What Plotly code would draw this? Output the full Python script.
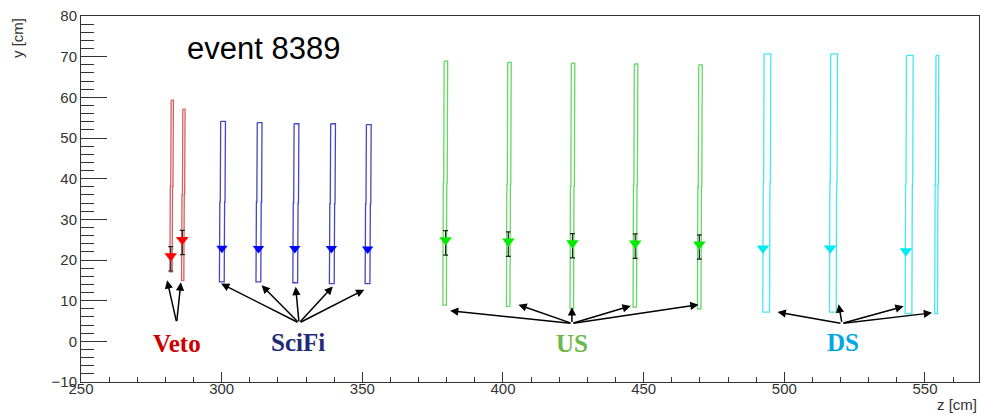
import plotly.graph_objects as go

# ---------------- data ----------------
# detector planes: centre z (top), width, bottom y, top y
veto_z = [282.45, 286.6]
veto_w = [0.8, 0.8]
veto_ybot = [17.1, 15.0]
veto_ytop = [59.3, 57.1]

scifi_z = [300.5, 313.5, 326.6, 339.6, 352.3]
scifi_w = [1.7, 1.7, 1.7, 1.7, 1.7]
scifi_ybot = [14.6, 14.6, 14.4, 14.2, 14.2]
scifi_ytop = [54.1, 53.8, 53.5, 53.5, 53.3]

us_z = [379.7, 402.3, 424.9, 447.3, 470.2]
us_w = [1.25, 1.25, 1.25, 1.25, 1.25]
us_ybot = [8.9, 8.6, 8.0, 8.4, 8.0]
us_ytop = [68.9, 68.6, 68.4, 68.2, 68.0]

ds_z = [494.0, 517.7, 544.6, 554.4]
ds_w = [2.4, 2.4, 2.4, 1.0]
ds_ybot = [7.2, 7.2, 6.8, 6.8]
ds_ytop = [70.7, 70.7, 70.3, 70.3]

# hits
veto_hit_z = [281.9, 286.0]
veto_hit_y = [20.3, 24.3]
veto_hit_err = [3.0, 3.0]

scifi_hit_z = [300.1, 313.1, 326.0, 339.0, 351.9]
scifi_hit_y = [22.9, 22.8, 22.8, 22.8, 22.7]

us_hit_z = [379.6, 401.9, 424.7, 447.0, 469.8]
us_hit_y = [24.2, 23.9, 23.5, 23.4, 23.2]
us_hit_err = [3.0, 3.0, 3.0, 3.0, 3.0]

ds_hit_z = [492.4, 516.3, 543.2]
ds_hit_y = [22.9, 22.9, 22.2]

# labels and arrows
label_text = ["Veto", "SciFi", "US", "DS"]
label_z = [284.1, 327.0, 424.5, 520.7]
label_y = [-0.6, -0.4, -0.5, -0.4]
label_color = ["#cc0000", "#1f2a78", "#6cb84a", "#00a8e6"]

arrow_base = [(284.0, 4.6), (327.5, 4.5), (424.5, 4.4), (520.5, 4.4)]
arrow_tips = [
    [(280.6, 15.0), (285.5, 14.5)],
    [(299.8, 14.2), (314.2, 13.8), (326.3, 13.4), (339.5, 13.5), (350.7, 12.7)],
    [(381.2, 7.5), (405.5, 9.0), (424.5, 8.4), (445.4, 8.7), (469.5, 9.0)],
    [(497.6, 7.2), (519.3, 9.1), (542.4, 8.6), (552.5, 7.0)],
]

event_label = "event 8389"

x_range = [250, 569.2]
y_range = [-10, 80]

# ---------------- figure ----------------
fig = go.Figure()

NSEG = 4
TILT = -0.45  # cm shift of the lowest segment relative to the top one


def outline(zs, ws, ybs, yts):
    xs, ys = [], []
    for zc, w, yb, yt in zip(zs, ws, ybs, yts):
        h = (yt - yb) / NSEG
        segs = []
        for i in range(NSEG):
            top = yt - i * h
            bot = yt - (i + 1) * h
            dz = TILT * i / (NSEG - 1)
            segs.append((zc + dz, top, bot))
        for c, top, bot in segs:
            xs += [c - w / 2, c - w / 2]
            ys += [top, bot]
        for c, top, bot in reversed(segs):
            xs += [c + w / 2, c + w / 2]
            ys += [bot, top]
        xs += [segs[0][0] - w / 2, None]
        ys += [segs[0][1], None]
    return xs, ys


plane_sets = [
    (veto_z, veto_w, veto_ybot, veto_ytop, "rgb(215,95,95)"),
    (scifi_z, scifi_w, scifi_ybot, scifi_ytop, "rgb(70,70,195)"),
    (us_z, us_w, us_ybot, us_ytop, "rgb(100,215,100)"),
    (ds_z, ds_w, ds_ybot, ds_ytop, "rgb(70,230,240)"),
]
for zs, ws, ybs, yts, col in plane_sets:
    px, py = outline(zs, ws, ybs, yts)
    fig.add_trace(go.Scatter(x=px, y=py, mode="lines",
                             line=dict(color=col, width=1.3),
                             hoverinfo="skip", showlegend=False))

# error bars
for hz, hy, he in [(veto_hit_z, veto_hit_y, veto_hit_err), (us_hit_z, us_hit_y, us_hit_err)]:
    fig.add_trace(go.Scatter(x=hz, y=hy, mode="markers",
                             marker=dict(size=2, color="rgba(0,0,0,0)"),
                             error_y=dict(type="data", array=he, color="#222222",
                                          thickness=1.2, width=2.5),
                             hoverinfo="skip", showlegend=False))

MARK_SHIFT = 0.7  # ROOT draws the triangle slightly above the point
hit_sets = [
    (veto_hit_z, [v + MARK_SHIFT for v in veto_hit_y], "rgb(255,0,0)", 11),
    (scifi_hit_z, scifi_hit_y, "rgb(0,0,255)", 10),
    (us_hit_z, [v + MARK_SHIFT for v in us_hit_y], "rgb(0,235,0)", 11),
    (ds_hit_z, ds_hit_y, "rgb(0,235,240)", 11),
]
for hz, hy, col, sz in hit_sets:
    fig.add_trace(go.Scatter(x=hz, y=hy, mode="markers",
                             marker=dict(symbol="triangle-down", size=sz, color=col,
                                         line=dict(width=0)),
                             hoverinfo="skip", showlegend=False))

annotations = []
for (bz, by), tips in zip(arrow_base, arrow_tips):
    for tz, ty in tips:
        annotations.append(dict(x=tz, y=ty, ax=bz, ay=by, xref="x", yref="y",
                                axref="x", ayref="y", text="", showarrow=True,
                                arrowhead=2, arrowsize=1.1, arrowwidth=1.5,
                                arrowcolor="black", standoff=0, startstandoff=0))

for t, z, y, c in zip(label_text, label_z, label_y, label_color):
    annotations.append(dict(x=z, y=y, xref="x", yref="y", text="<b>%s</b>" % t,
                            showarrow=False, xanchor="center", yanchor="middle",
                            font=dict(family="Liberation Serif", size=25, color=c)))

annotations.append(dict(x=315.0, y=72.0, xref="x", yref="y", text=event_label,
                        showarrow=False, xanchor="center", yanchor="middle",
                        font=dict(family="Liberation Sans", size=31, color="black")))

annotations.append(dict(x=0, y=1, xref="paper", yref="paper", text="y [cm]",
                        showarrow=False, textangle=-90, xanchor="center", yanchor="top",
                        xshift=-64, font=dict(family="Liberation Sans", size=15, color="#333333")))
annotations.append(dict(x=1, y=0, xref="paper", yref="paper", text="z [cm]",
                        showarrow=False, xanchor="right", yanchor="middle",
                        yshift=-22, font=dict(family="Liberation Sans", size=15, color="#333333")))

axis_common = dict(showgrid=False, zeroline=False, showline=True, linecolor="#333333",
                   linewidth=1, mirror=True, ticks="inside", tickcolor="#333333",
                   tickwidth=1, tickfont=dict(family="Liberation Sans", size=15, color="#333333"))

fig.update_layout(
    width=981, height=415,
    margin=dict(l=81, r=2, t=16, b=33),
    paper_bgcolor="white", plot_bgcolor="white",
    xaxis=dict(range=x_range, tickmode="linear", tick0=250, dtick=50, ticklen=10,
               ticklabelstandoff=-7,
               minor=dict(dtick=10, ticklen=5, ticks="inside", tickcolor="#333333"),
               **axis_common),
    yaxis=dict(range=y_range, tickmode="linear", tick0=-10, dtick=10, ticklen=26,
               minor=dict(dtick=2, ticklen=13, ticks="inside", tickcolor="#333333"),
               **axis_common),
    annotations=annotations,
    showlegend=False,
)

# remove the default page margin so the figure fills the window exactly
fig.write_html("out.html", config={"displayModeBar": False},
               post_script="document.body.style.margin='0px';document.body.style.overflow='hidden';")
